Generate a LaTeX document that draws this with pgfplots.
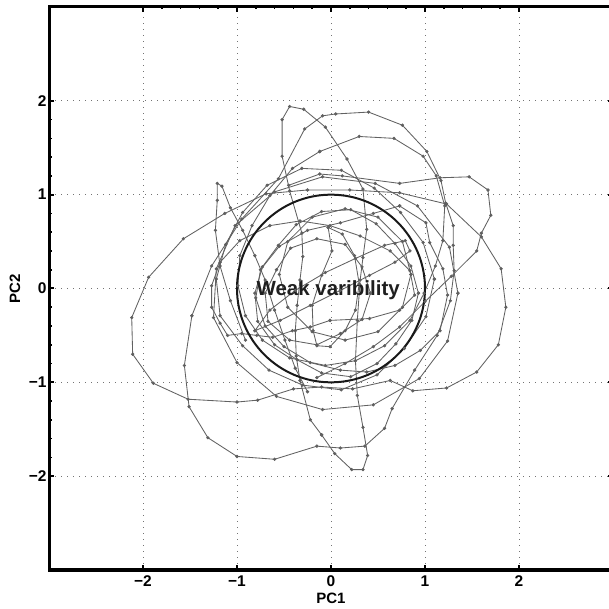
\documentclass[border=0pt]{standalone}
\usepackage{fontspec}
\setmainfont{Liberation Sans}
\usepackage{pgfplots}
\pgfplotsset{compat=1.18}
\pgfplotsset{traj/.style={color=black!62, line width=0.85pt, mark=*, mark size=1.2pt, mark options={fill=black!66, draw=none}}}
\begin{document}
\begin{tikzpicture}
\begin{axis}[
  scale only axis, width=564pt, height=563pt,
  xmin=-3, xmax=3, ymin=-3, ymax=3,
  xtick={-2,-1,0,1,2}, ytick={-2,-1,0,1,2},
  xticklabels={−2,−1,0,1,2}, yticklabels={−2,−1,0,1,2},
  /pgf/number format/assume math mode=true,
  minor tick num=4,
  tick align=inside,
  major tick length=5pt, minor tick length=2.5pt,
  major tick style={black, line width=2pt},
  minor tick style={black, line width=1.6pt},
  separate axis lines,
  every outer x axis line/.append style={line width=3pt, black, line cap=rect},
  every outer y axis line/.append style={line width=3pt, black, line cap=rect},
  grid=major,
  major grid style={black!55, line width=0.9pt, dash pattern=on 0.9pt off 5.1pt},
  ticklabel style={font=\fontsize{15.5}{15.5}\selectfont\bfseries},
  xticklabel style={yshift=-2pt},
  yticklabel style={xshift=1pt},
  xlabel={PC1}, ylabel={PC2},
  label style={font=\fontsize{15}{15}\selectfont\bfseries},
  xlabel style={at={(axis description cs:0.5,-0.0497)}, anchor=center},
  ylabel style={at={(axis description cs:-0.0603,0.5)}, anchor=center},
  clip=false,
]
\coordinate (sw) at (rel axis cs:0,0);
\coordinate (nw) at (rel axis cs:0,1);
% big outer loop
\addplot[traj] coordinates {(-0.69,1.01) (-0.25,1.05) (0.20,1.05) (0.73,1.02) (1.23,0.90) (1.60,0.55) (1.81,0.21) (1.86,-0.20) (1.78,-0.60) (1.55,-0.89) (1.23,-1.06) (0.87,-1.09) (0.63,-0.98) (0.23,-1.07) (-0.10,-1.05) (-0.40,-1.07) (-0.78,-1.19) (-1.00,-1.21) (-1.52,-1.18) (-1.89,-1.01) (-2.11,-0.70) (-2.12,-0.31) (-1.94,0.12) (-1.57,0.53) (-1.13,0.80) (-0.69,1.01)};
% top-right lobe and diagonal
\addplot[traj] coordinates {(-0.45,1.10) (-0.12,1.22) (0.12,1.20) (0.73,1.12) (1.16,1.18) (1.47,1.19) (1.67,1.05) (1.70,0.78) (1.60,0.59) (1.55,0.40) (1.28,0.13) (1.00,-0.14) (0.73,-0.41) (0.45,-0.62) (0.15,-0.80) (-0.15,-0.95)};
% second large loop
\addplot[traj] coordinates {(-1.48,-0.29) (-1.27,0.24) (-0.95,0.74) (-0.56,1.17) (-0.28,1.70) (-0.09,1.84) (0.05,1.86) (0.40,1.88) (0.76,1.74) (1.02,1.46) (1.17,1.15) (1.22,0.91) (1.30,0.67) (1.30,0.46) (1.31,0.19) (1.27,-0.13) (1.13,-0.50) (0.89,-0.87) (0.65,-1.28) (0.57,-1.49) (0.36,-1.68) (0.10,-1.70) (-0.15,-1.68) (-0.60,-1.82) (-1.00,-1.79) (-1.31,-1.59) (-1.51,-1.26) (-1.56,-0.82) (-1.48,-0.29)};
% top spike loop
\addplot[traj] coordinates {(-0.10,-1.56) (-0.22,-1.40) (-0.33,-0.98) (-0.37,-0.72) (-0.38,-0.45) (-0.36,-0.18) (-0.33,0.09) (-0.30,0.34) (-0.31,0.59) (-0.44,1.04) (-0.52,1.41) (-0.52,1.80) (-0.44,1.94) (-0.29,1.91) (-0.06,1.72) (0.17,1.38) (0.34,1.06) (0.38,0.63) (0.34,0.33) (0.31,0.09) (0.28,-0.34) (0.26,-0.77) (0.28,-1.14) (0.34,-1.48) (0.39,-1.78) (0.34,-1.93) (0.22,-1.93) (0.04,-1.76) (-0.10,-1.56)};
% left spike
\addplot[traj] coordinates {(-0.91,-0.55) (-1.07,-0.13) (-1.18,0.24) (-1.23,0.62) (-1.21,0.94) (-1.21,1.12) (-1.16,1.09) (-1.07,0.86) (-0.94,0.62) (-0.81,0.35) (-0.70,0.09) (-0.60,-0.23) (-0.49,-0.55) (-0.38,-0.85) (-0.25,-1.10)};
% inner loop
\addplot[traj] coordinates {(-0.01,-0.34) (-0.22,-0.41) (-0.41,-0.45) (-0.62,-0.52) (-0.79,-0.50) (-0.95,-0.48) (-1.10,-0.50) (-1.18,-0.37) (-1.27,-0.20) (-1.27,0.03) (-1.18,0.28) (-0.97,0.51) (-0.65,0.67) (-0.33,0.72) (-0.01,0.67) (0.31,0.56) (0.63,0.40) (0.84,0.19) (0.89,-0.07) (0.73,-0.23) (0.41,-0.32) (-0.01,-0.34)};
\addplot[traj] coordinates {(-0.12,1.46) (0.30,1.62) (0.67,1.60) (0.98,1.41) (1.12,1.20) (1.21,0.88) (1.19,0.51) (1.11,0.24) (0.99,-0.05) (0.84,-0.34) (0.57,-0.61) (0.26,-0.77) (-0.06,-0.82) (-0.44,-0.74) (-0.73,-0.55) (-0.91,-0.29) (-0.99,0.03) (-0.97,0.35) (-0.84,0.67) (-0.65,0.99) (-0.41,1.28) (-0.12,1.46)};
\addplot[traj] coordinates {(0.73,0.88) (1.01,0.70) (1.05,0.49) (1.19,0.21) (1.24,-0.07) (1.16,-0.45) (0.95,-0.66) (0.68,-0.82) (0.38,-0.89) (0.10,-0.87) (-0.22,-0.79) (-0.50,-0.62) (-0.70,-0.40) (-0.80,-0.10) (-0.75,0.20) (-0.55,0.45) (-0.25,0.62) (0.10,0.70) (0.45,0.80) (0.73,0.88)};
% tilted ellipse
\addplot[traj] coordinates {(-0.81,-0.45) (-0.54,-0.34) (-0.22,-0.18) (0.10,-0.02) (0.41,0.14) (0.68,0.28) (0.84,0.40) (0.79,0.51) (0.57,0.46) (0.26,0.32) (-0.06,0.17) (-0.38,-0.02) (-0.65,-0.23) (-0.81,-0.45)};
% small centre loop
\addplot[traj] coordinates {(-0.03,0.65) (0.01,0.40) (-0.10,0.14) (-0.20,-0.18) (-0.19,-0.45) (-0.15,-0.61) (-0.01,-0.62) (0.15,-0.45) (0.26,-0.23) (0.30,0.05) (0.25,0.35) (0.12,0.58) (-0.03,0.65)};
\addplot[traj] coordinates {(0.93,-0.05) (0.85,0.24) (0.68,0.48) (0.48,0.69) (0.21,0.84) (-0.10,0.82) (-0.37,0.68) (-0.56,0.46) (-0.73,0.23) (-0.81,-0.05) (-0.78,-0.35) (-0.60,-0.60) (-0.36,-0.76) (-0.10,-0.90) (0.21,-0.94) (0.49,-0.80) (0.69,-0.59) (0.86,-0.34) (0.93,-0.05)};
\addplot[traj] coordinates {(1.10,0.10) (0.98,0.49) (0.74,0.81) (0.46,1.07) (0.11,1.26) (-0.31,1.28) (-0.68,1.10) (-0.94,0.81) (-1.12,0.47) (-1.22,0.10) (-1.18,-0.29) (-0.94,-0.61) (-0.66,-0.87) (-0.30,-1.03) (0.11,-1.08) (0.49,-0.92) (0.78,-0.64) (1.01,-0.30) (1.10,0.10)};
\addplot[traj] coordinates {(0.42,-0.05) (0.33,0.23) (0.15,0.47) (-0.15,0.53) (-0.43,0.43) (-0.58,0.20) (-0.70,-0.05) (-0.67,-0.35) (-0.44,-0.55) (-0.15,-0.60) (0.10,-0.48) (0.33,-0.33) (0.42,-0.05)};
\addplot[traj] coordinates {(1.35,-0.05) (1.26,0.44) (0.92,0.88) (0.47,1.12) (-0.09,1.19) (-0.60,1.03) (-1.02,0.67) (-1.22,0.21) (-1.25,-0.31) (-1.00,-0.79) (-0.58,-1.15) (-0.09,-1.29) (0.45,-1.24) (0.94,-0.96) (1.24,-0.56) (1.35,-0.05)};
\addplot[traj] coordinates {(0.85,0.15) (0.76,0.50) (0.50,0.76) (0.15,0.85) (-0.20,0.76) (-0.46,0.50) (-0.55,0.15) (-0.46,-0.20) (-0.20,-0.46) (0.15,-0.55) (0.50,-0.46) (0.76,-0.20) (0.85,0.15)};
% unit circle
\draw[black!90, line width=2pt] (axis cs:0,0) circle[radius=1];
\node[font=\fontsize{20.5}{20.5}\selectfont\bfseries, text=black!88] at (axis cs:-0.03,-0.02) {Weak varibility};
\end{axis}
\pgfresetboundingbox
\path[use as bounding box] ([xshift=-49pt,yshift=-39pt]sw) rectangle ([xshift=559pt,yshift=7pt]nw);
\end{tikzpicture}
\end{document}
